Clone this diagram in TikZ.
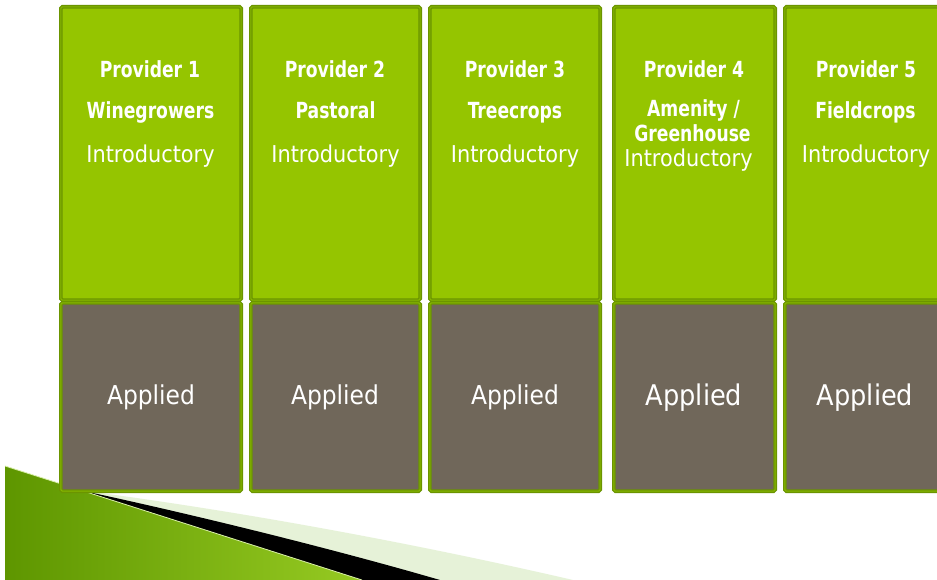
\documentclass[tikz,border=0pt]{standalone}
\usepackage{fontspec}
\setmainfont{DejaVu Sans Condensed}
\newfontfamily\headfont[FakeStretch=0.86]{DejaVu Sans Condensed}
\definecolor{boxgreen}{HTML}{95C500}
\definecolor{boxgray}{HTML}{70675A}
\definecolor{bdark}{HTML}{6B9400}
\definecolor{blight}{HTML}{86B600}
\definecolor{bandlight}{HTML}{E6F2D8}
\definecolor{decodark}{HTML}{5E9600}
\definecolor{decomid}{HTML}{B2E254}
\definecolor{decoright}{HTML}{96CA22}
\newcommand\mkbox[6]{%
  \node[#6, minimum width={#3pt-#2pt-3.7pt}, minimum height={#5pt-#4pt-3.7pt}]
    (#1) at ({(#2+#3)/2},{(#4+#5)/2}) {};}
\begin{document}
\begin{tikzpicture}[x=1pt,y=-1pt,
  boxbase/.style={rectangle, rounded corners=1.5pt, draw=bdark, double=blight,
    double distance=1.1pt, line width=1.3pt, inner sep=0pt},
  gbox/.style={boxbase, fill=boxgreen},
  ybox/.style={boxbase, fill=boxgray},
  txt/.style={text=white, anchor=base, inner sep=0pt},
  head/.style={txt, font=\headfont\fontsize{22.2}{22.2}\selectfont\bfseries},
  intro/.style={txt, font=\fontsize{23.2}{23.2}\selectfont},
  appl/.style={txt, font=\fontsize{26}{26}\selectfont},
  applbig/.style={txt, font=\fontsize{28.5}{28.5}\selectfont}]
\useasboundingbox[fill=white] (0,0) rectangle (937,580);

% bottom decoration
\fill[bandlight] (70,489) .. controls (220,508) and (400,540) .. (573,580)
  -- (300,580) -- cycle;
\fill[black] (60,486) .. controls (180,511) and (330,548) .. (440,580)
  -- (300,580) -- cycle;
\shade[left color=decodark, middle color=decomid, right color=decoright]
  (5,466) -- (362,580) -- (5,580) -- cycle;
\draw[line width=0.8pt, color=decomid!50!white] (5,466) -- (362,580);

% boxes
\mkbox{g1}{59}{243}{5}{302}{gbox}
\mkbox{a1}{59}{243}{301}{493}{ybox}
\mkbox{g2}{249}{422}{5}{302}{gbox}
\mkbox{a2}{249}{422}{301}{493}{ybox}
\mkbox{g3}{428}{602}{5}{302}{gbox}
\mkbox{a3}{428}{602}{301}{493}{ybox}
\mkbox{g4}{612}{777}{5}{302}{gbox}
\mkbox{a4}{612}{777}{301}{493}{ybox}
\mkbox{g5}{783}{949}{5}{302}{gbox}
\mkbox{a5}{783}{949}{301}{493}{ybox}

% texts
\node[head]  (p1) at (150,77.3) {Provider 1};
\node[head]  (n1) at (150.5,119) {Winegrowers};
\node[intro] (i1) at (150.5,162.3) {Introductory};
\node[appl]  (t1) at (151,404.3) {Applied};

\node[head]  (p2) at (335,77.3) {Provider 2};
\node[head]  (n2) at (335.5,119) {Pastoral};
\node[intro] (i2) at (335.5,162.3) {Introductory};
\node[appl]  (t2) at (335,404.3) {Applied};

\node[head]  (p3) at (515,77.3) {Provider 3};
\node[head]  (n3) at (515,119) {Treecrops};
\node[intro] (i3) at (515,162.3) {Introductory};
\node[appl]  (t3) at (515,404.3) {Applied};

\node[head]  (p4) at (694,77.3) {Provider 4};
\node[head]  (n4) at (693.5,117) {Amenity /};
\node[head]  (m4) at (692.5,141.7) {Greenhouse};
\node[intro] (i4) at (688.5,166.7) {Introductory};
\node[applbig] (t4) at (694,405) {Applied};

\node[head]  (p5) at (866,77.3) {Provider 5};
\node[head]  (n5) at (865.5,119) {Fieldcrops};
\node[intro] (i5) at (866,162.3) {Introductory};
\node[applbig] (t5) at (865,405) {Applied};
\end{tikzpicture}
\end{document}
